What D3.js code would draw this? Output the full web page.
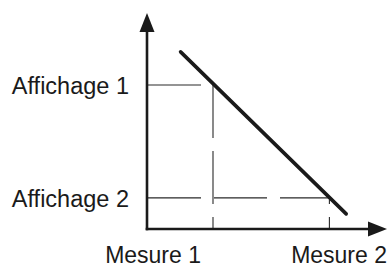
<!DOCTYPE html>
<html>
<head>
<meta charset="utf-8">
<script src="https://cdn.jsdelivr.net/npm/d3@7"></script>
<style>
  html, body { margin: 0; padding: 0; background: #fff; }
  svg { display: block; }
  text { font-family: "Liberation Sans", Arial, sans-serif; fill: #1a1a1a; }
</style>
</head>
<body>
<script>
// ---- data ----
const measureLabels = ["Mesure 1", "Mesure 2"];
const measureValues = [27.5, 76];
const displayLabels = ["Affichage 1", "Affichage 2"];
const displayValues = [66.7, 14.4];
const lineX = [14, 83];
const lineY = [82, 7];

// ---- layout ----
const W = 389, H = 268;
const svg = d3.select("body").append("svg").attr("width", W).attr("height", H);

const x = d3.scaleLinear().domain([0, 100]).range([147, 387]);
const y = d3.scaleLinear().domain([0, 100]).range([229, 13]);

const ink = "#1a1a1a";
const dash = [53, 13];
const period = dash[0] + dash[1];

// dashed guide lines
const g = svg.append("g").attr("fill", "none").attr("stroke", "#2a2a2a").attr("stroke-width", 1.1);
displayValues.forEach((v, i) => {
  g.append("line")
    .attr("x1", x(0) + 1).attr("x2", x(measureValues[i]))
    .attr("y1", y(v)).attr("y2", y(v))
    .attr("stroke-dasharray", dash.join(","));
  const offset = (y(v) - y(displayValues[0])) % period;
  g.append("line")
    .attr("x1", x(measureValues[i])).attr("x2", x(measureValues[i]))
    .attr("y1", y(v)).attr("y2", y(0))
    .attr("stroke-dasharray", dash.join(","))
    .attr("stroke-dashoffset", offset);
});

// main line
const pts = lineX.map((d, i) => [d, lineY[i]]);
svg.append("path")
  .datum(pts)
  .attr("fill", "none").attr("stroke", ink).attr("stroke-width", 3.6)
  .attr("stroke-linecap", "round")
  .attr("d", d3.line().x(d => x(d[0])).y(d => y(d[1])));

// axes
const ax = svg.append("g");
ax.append("line").attr("x1", x(0)).attr("x2", x(0)).attr("y1", y(0) + 1.3).attr("y2", y(100) + 12)
  .attr("stroke", ink).attr("stroke-width", 2.6);
ax.append("line").attr("x1", x(0) - 1.3).attr("x2", x(100) - 12).attr("y1", y(0)).attr("y2", y(0))
  .attr("stroke", ink).attr("stroke-width", 2.6);
// arrowheads
ax.append("path").attr("fill", ink)
  .attr("d", `M${x(0)},${y(100)} L${x(0) - 7.5},${y(100) + 19} L${x(0) + 7.5},${y(100) + 19} Z`);
ax.append("path").attr("fill", ink)
  .attr("d", `M${x(100)},${y(0)} L${x(100) - 19},${y(0) - 7.5} L${x(100) - 19},${y(0) + 7.5} Z`);

// labels
displayLabels.forEach((t, i) => {
  svg.append("text").attr("x", 129).attr("y", y(displayValues[i]) + 9)
    .attr("text-anchor", "end").attr("font-size", 23.5).text(t);
});
svg.append("text").attr("x", x(measureValues[0]) - 12).attr("y", 263)
  .attr("text-anchor", "end").attr("font-size", 23).text(measureLabels[0]);
svg.append("text").attr("x", W - 2).attr("y", 263)
  .attr("text-anchor", "end").attr("font-size", 23).text(measureLabels[1]);
</script>
</body>
</html>
